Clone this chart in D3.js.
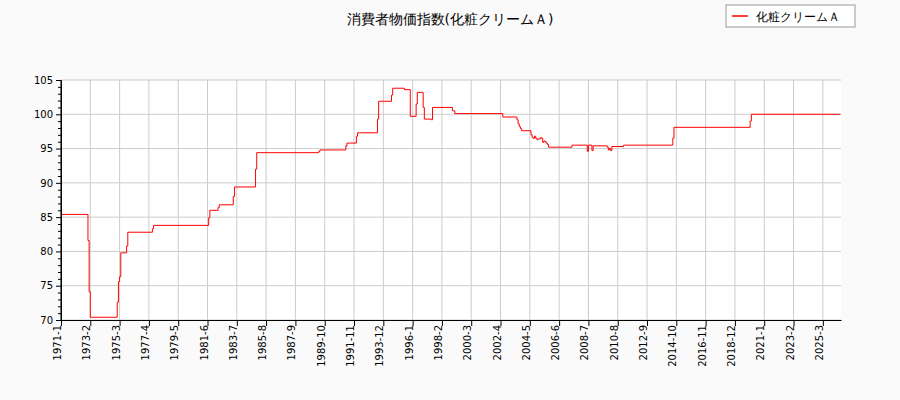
<!DOCTYPE html>
<html>
<head>
<meta charset="utf-8">
<script src="https://cdn.jsdelivr.net/npm/d3@7"></script>
<style>
  body { margin: 0; background: #fafafa; font-family: "DejaVu Sans", sans-serif; }
</style>
</head>
<body>
<script>
// change points: month, value (step after)
var changeMonths = ["1971-01","1972-12","1973-01","1973-02","1975-01","1975-02","1975-03","1975-04","1975-09","1975-10",
  "1977-07","1977-08","1981-07","1981-08","1982-03","1982-04","1983-04","1983-05","1984-11","1984-12",
  "1989-05","1989-06","1991-04","1991-05","1992-01","1992-02","1993-07","1993-08","1994-07","1994-08",
  "1995-06","1995-11","1996-04","1996-05","1996-10","1996-11","1997-05","1997-06","1998-11","1999-01",
  "2002-06","2003-06","2003-07","2003-08","2003-09","2003-10","2004-06","2004-07","2004-08","2004-09",
  "2004-10","2004-11","2004-12","2005-02","2005-03","2005-04","2005-05","2005-06","2005-07","2005-08",
  "2005-09","2007-05","2008-06","2008-07","2008-10","2008-11","2009-11","2009-12","2010-01","2010-02",
  "2010-03","2011-01","2014-07","2014-08","2020-01","2020-02","2026-06"];
var changeValues = [85.4,81.6,74.1,70.4,72.6,75.6,76.3,79.8,80.8,82.8,
  83.3,83.8,84.9,86.0,86.4,86.8,88.0,89.4,92.0,94.4,
  94.6,94.8,95.4,95.8,96.8,97.3,99.3,101.9,102.8,103.8,
  103.6,99.7,101.5,103.2,101.0,99.3,99.2,101.0,100.5,100.1,
  99.6,99.2,98.6,98.2,97.9,97.6,97.0,96.6,96.5,96.8,
  96.5,96.3,96.4,96.6,96.5,95.9,96.1,96.0,95.8,95.6,
  95.2,95.5,94.6,95.5,94.7,95.4,95.2,94.8,95.0,94.7,
  95.3,95.5,96.5,98.1,99.0,100.0,100.0];
var yTicks = [70,75,80,85,90,95,100,105];
var seriesName = "化粧クリームＡ";
var title = "消費者物価指数(化粧クリームＡ)";

function mIndex(s) { var p = s.split("-"); return (+p[0] - 1971) * 12 + (+p[1] - 1); }
function mLabel(i) { return (1971 + Math.floor(i / 12)) + "-" + (i % 12 + 1); }

var data = changeMonths.map(function(m, i) { return { m: mIndex(m), v: changeValues[i] }; });

var W = 900, H = 400, L = 61, R = 841, T = 80, B = 320;
var svg = d3.select("body").append("svg").attr("width", W).attr("height", H);

var x = d3.scaleLinear().domain([0, 665.5]).range([L, R]);
var y = d3.scaleLinear().domain([70, 105]).range([B, T]);
var xTicks = d3.range(0, 666, 25);

svg.append("rect").attr("x", L).attr("y", T).attr("width", R - L).attr("height", B - T).attr("fill", "#fff");

svg.append("g").selectAll("line").data(xTicks).enter().append("line")
  .attr("x1", function(d) { return x(d); }).attr("x2", function(d) { return x(d); })
  .attr("y1", T).attr("y2", B).attr("stroke", "#ccc");
svg.append("g").selectAll("line").data(yTicks).enter().append("line")
  .attr("y1", function(d) { return y(d); }).attr("y2", function(d) { return y(d); })
  .attr("x1", L).attr("x2", R).attr("stroke", "#ccc");

var line = d3.line().x(function(d) { return x(d.m); }).y(function(d) { return y(d.v); }).curve(d3.curveStepAfter);
svg.append("path").datum(data).attr("d", line).attr("fill", "none").attr("stroke", "red").attr("stroke-width", 1);

var xa = svg.append("g").attr("transform", "translate(0," + B + ")")
  .call(d3.axisBottom(x).tickValues(xTicks).tickFormat(mLabel).tickSizeOuter(0));
xa.selectAll("text").attr("transform", "rotate(-90)").attr("text-anchor", "end")
  .attr("x", -5).attr("y", -4).attr("dy", "0.35em").style("font-size", "10px").style("font-family", "DejaVu Sans");
var ya = svg.append("g").attr("transform", "translate(" + L + ",0)")
  .call(d3.axisLeft(y).tickValues(yTicks).tickSizeOuter(0).tickSize(5)
    .tickValues(d3.range(70, 105.1, 1)).tickFormat(function(d) { return d % 5 === 0 ? d : ""; }));
ya.selectAll(".tick line").attr("x2", function(d) { return d % 5 === 0 ? -5 : -3; });
ya.selectAll("text").style("font-size", "10px").style("font-family", "DejaVu Sans");
svg.selectAll(".domain").attr("stroke", "#000");
svg.append("line").attr("x1", L).attr("x2", L).attr("y1", T).attr("y2", B).attr("stroke", "#000");

svg.append("text").attr("x", 450).attr("y", 24).attr("text-anchor", "middle")
  .style("font-size", "14px").text(title);

var lg = svg.append("g").attr("transform", "translate(726,5)");
lg.append("rect").attr("width", 129).attr("height", 22).attr("fill", "#fff").attr("stroke", "#999");
lg.append("line").attr("x1", 6).attr("x2", 22).attr("y1", 11).attr("y2", 11).attr("stroke", "red").attr("stroke-width", 1.5);
lg.append("text").attr("x", 30).attr("y", 15.5).style("font-size", "12px").text(seriesName);
</script>
</body>
</html>
